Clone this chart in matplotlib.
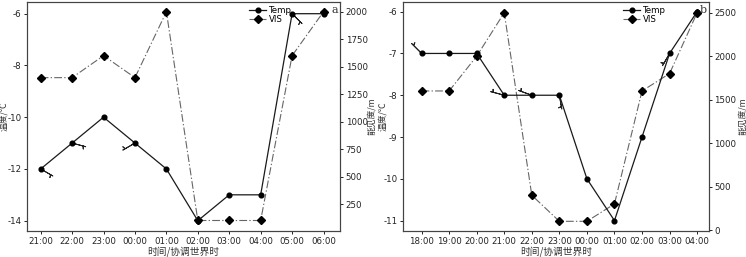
import numpy as np
import matplotlib.pyplot as plt
from matplotlib.lines import Line2D

plt.rcParams['font.family'] = ['DejaVu Sans', 'Noto Sans CJK SC']
plt.rcParams['axes.unicode_minus'] = False

# panel a
times_a = ['21:00', '22:00', '23:00', '00:00', '01:00', '02:00', '03:00', '04:00', '05:00', '06:00']
temp_a = [-12, -11, -10, -11, -12, -14, -13, -13, -6, -6]
vis_a = [1400, 1400, 1600, 1400, 2000, 100, 100, 100, 1600, 2000]
# wind barbs: point index, direction of staff on screen (deg)
barb_idx_a = [0, 1, 3, 8]
barb_dir_a = [-30, -15, -150, -45]

# panel b
times_b = ['18:00', '19:00', '20:00', '21:00', '22:00', '23:00', '00:00', '01:00', '02:00', '03:00', '04:00']
temp_b = [-7, -7, -7, -8, -8, -8, -10, -11, -9, -7, -6]
vis_b = [1600, 1600, 2000, 2500, 400, 100, 100, 300, 1600, 1800, 2500]
barb_idx_b = [0, 3, 4, 5, 9]
barb_dir_b = [135, 165, 160, -80, -120]

cjk = ['Noto Sans CJK SC', 'DejaVu Sans']
fs = 6.2

fig = plt.figure(figsize=(7.46, 2.57), dpi=100)
ax_a = fig.add_axes([0.036, 0.101, 0.420, 0.891])
ax_b = fig.add_axes([0.540, 0.101, 0.410, 0.891])

vis_style = dict(color='#666666', lw=0.8, ls=(0, (7, 2, 1.2, 2)),
                 marker='D', ms=4, mfc='black', mec='black')
temp_style = dict(color='#1a1a1a', lw=0.9, ls='-',
                  marker='o', ms=3.4, mfc='black', mec='black')


def panel(ax, times, temp, vis, bidx, bdir, xlim, ylim, ylim2, yticks, yticks2, tag, leg_x, lab_x):
    x = list(range(len(times)))
    ax2 = ax.twinx()
    ax2.plot(x, vis, zorder=2, **vis_style)
    ax.plot(x, temp, zorder=3, **temp_style)
    ax.set_zorder(ax2.get_zorder() + 1)
    ax.patch.set_visible(False)

    # wind barbs on the temperature points
    ang = np.deg2rad(bdir)
    bx = [x[i] for i in bidx]
    by = [temp[i] for i in bidx]
    ax.barbs(bx, by, -5 * np.cos(ang), -5 * np.sin(ang), length=4.5,
             linewidth=0.7, color='#222222', zorder=2)

    ax.set_xlim(*xlim)
    ax.set_ylim(*ylim)
    ax2.set_ylim(*ylim2)
    ax.set_xticks(x)
    ax.set_xticklabels(times)
    ax.set_yticks(yticks)
    ax2.set_yticks(yticks2)
    for a in (ax, ax2):
        a.tick_params(labelsize=fs, length=2, width=0.7, pad=2, colors='#222222')
        for s in a.spines.values():
            s.set_linewidth(0.8)
            s.set_color('#444444')

    ax.set_xlabel('时间/协调世界时', family=cjk, fontsize=7, labelpad=0, color='#333333')
    ax.set_ylabel('温度/℃', family=cjk, fontsize=6.3, color='#333333')
    ax2.set_ylabel('能见度/m', family=cjk, fontsize=6.3, color='#333333')
    ax.yaxis.set_label_coords(lab_x[0], 0.5)
    ax2.yaxis.set_label_coords(lab_x[1], 0.5)

    handles = [Line2D([], [], **temp_style), Line2D([], [], **vis_style)]
    ax.legend(handles, ['Temp', 'VIS'], loc='upper left', bbox_to_anchor=(leg_x, 1.01),
              frameon=False, fontsize=fs, handlelength=2.0, handletextpad=0.3,
              labelspacing=0.0, borderpad=0.2)
    ax.text(0.995, 0.965, tag, transform=ax.transAxes, ha='right', va='center',
            family=['DejaVu Serif'], fontsize=8, color='#333333')


panel(ax_a, times_a, temp_a, vis_a, barb_idx_a, barb_dir_a, (-0.44, 9.53), (-14.4, -5.55),
      (4, 2088), [-14, -12, -10, -8, -6], [250, 500, 750, 1000, 1250, 1500, 1750, 2000],
      'a', 0.69, (-0.059, 1.086))
panel(ax_b, times_b, temp_b, vis_b, barb_idx_b, barb_dir_b, (-0.68, 10.42), (-11.25, -5.77),
      (-12, 2623), [-11, -10, -9, -8, -7, -6], [0, 500, 1000, 1500, 2000, 2500],
      'b', 0.70, (-0.052, 1.095))

fig.savefig('out.png', dpi=100)
